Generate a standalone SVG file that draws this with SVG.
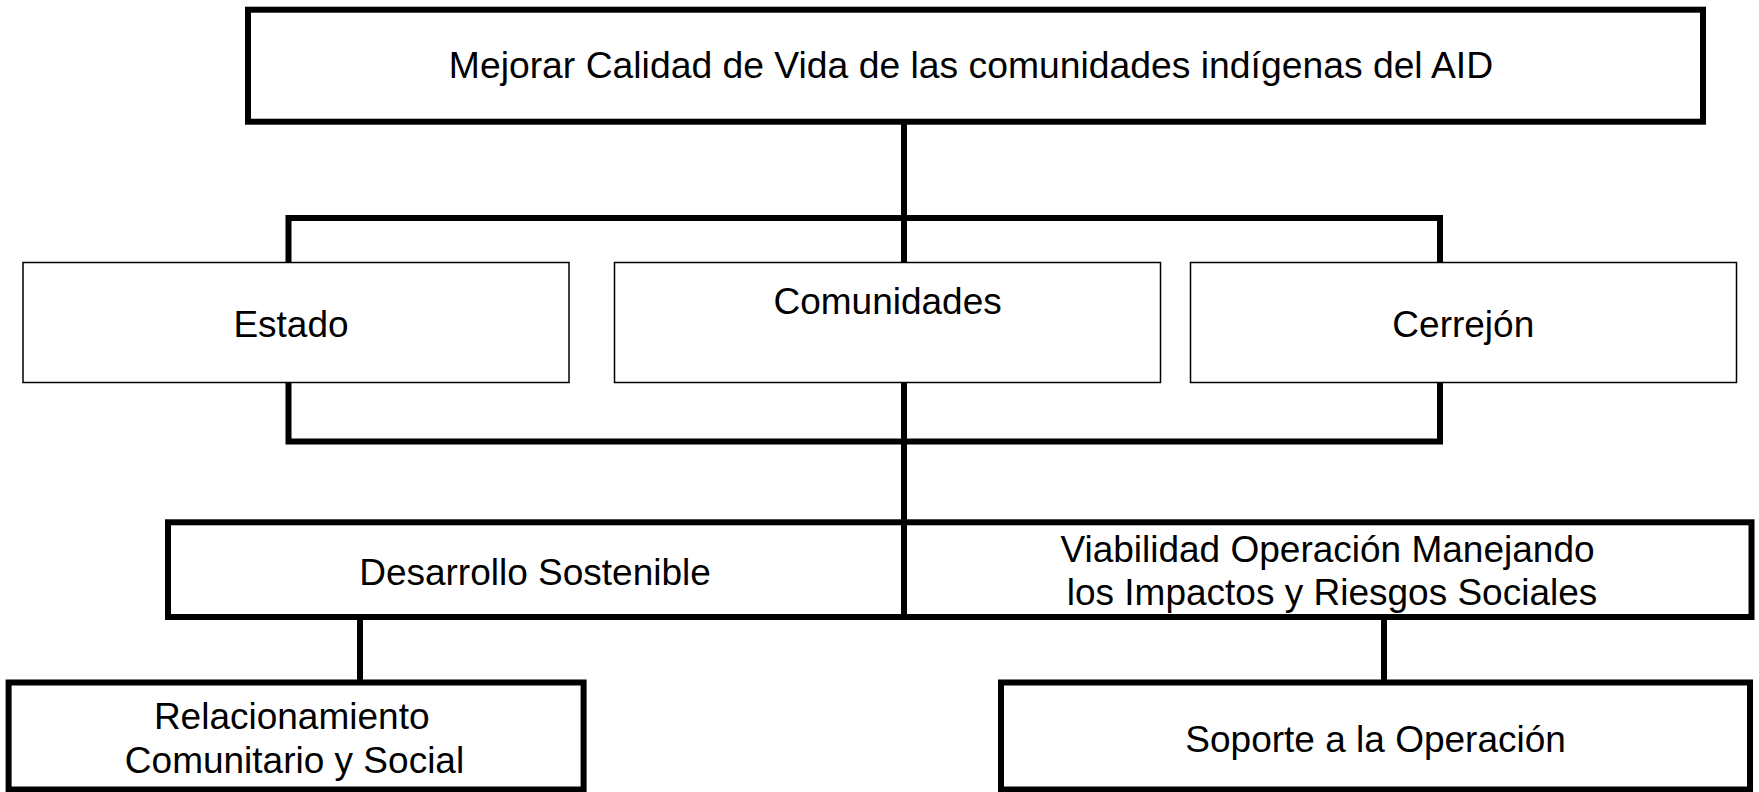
<svg xmlns="http://www.w3.org/2000/svg" width="1759" height="792" viewBox="0 0 1759 792">
<style>
.thick{fill:#fff;stroke:#000;stroke-width:6}
.thin{fill:#fff;stroke:#000;stroke-width:1.5}
.t{font-family:"Liberation Sans",Arial,sans-serif;font-size:37px;fill:#000;text-anchor:middle}
.c{fill:none;stroke:#000;stroke-width:6;stroke-linejoin:miter}
</style>
<rect width="1759" height="792" fill="#fff"/>
<g id="connectors">
<line class="c" x1="904" y1="121" x2="904" y2="263"/>
<polyline class="c" points="288.5,263 288.5,218 1440,218 1440,263"/>
<polyline class="c" points="288.5,382 288.5,441.5 1440,441.5 1440,382"/>
<line class="c" x1="904" y1="382" x2="904" y2="522"/>
<line class="c" x1="360" y1="617" x2="360" y2="682.5"/>
<line class="c" x1="1384" y1="617" x2="1384" y2="682.5"/>
</g>
<g id="n-top">
<rect class="thick" x="248" y="9.7" width="1455" height="112"/>
<text class="t" x="971" y="78" style="font-size:37.3px">Mejorar Calidad de Vida de las comunidades indígenas del AID</text>
</g>
<g id="n-estado">
<rect class="thin" x="23" y="262.5" width="546" height="120"/>
<text class="t" x="291" y="337">Estado</text>
</g>
<g id="n-comunidades">
<rect class="thin" x="614.5" y="262.5" width="546" height="120"/>
<text class="t" x="887.6" y="314">Comunidades</text>
</g>
<g id="n-cerrejon">
<rect class="thin" x="1190.5" y="262.5" width="546" height="120"/>
<text class="t" x="1463.3" y="337">Cerrejón</text>
</g>
<g id="n-desarrollo">
<rect class="thick" x="168" y="522.3" width="736" height="94.7"/>
<text class="t" x="535" y="585">Desarrollo Sostenible</text>
</g>
<g id="n-viabilidad">
<rect class="thick" x="904" y="522.3" width="847.5" height="94.7"/>
<text class="t" x="1327.5" y="562">Viabilidad Operación Manejando</text>
<text class="t" x="1332" y="605">los Impactos y Riesgos Sociales</text>
</g>
<g id="n-relacionamiento">
<rect class="thick" x="8.6" y="682.5" width="575" height="107"/>
<text class="t" x="291.7" y="729">Relacionamiento</text>
<text class="t" x="294.5" y="773">Comunitario y Social</text>
</g>
<g id="n-soporte">
<rect class="thick" x="1001" y="682.5" width="749" height="107"/>
<text class="t" x="1375.6" y="752">Soporte a la Operación</text>
</g>
</svg>
